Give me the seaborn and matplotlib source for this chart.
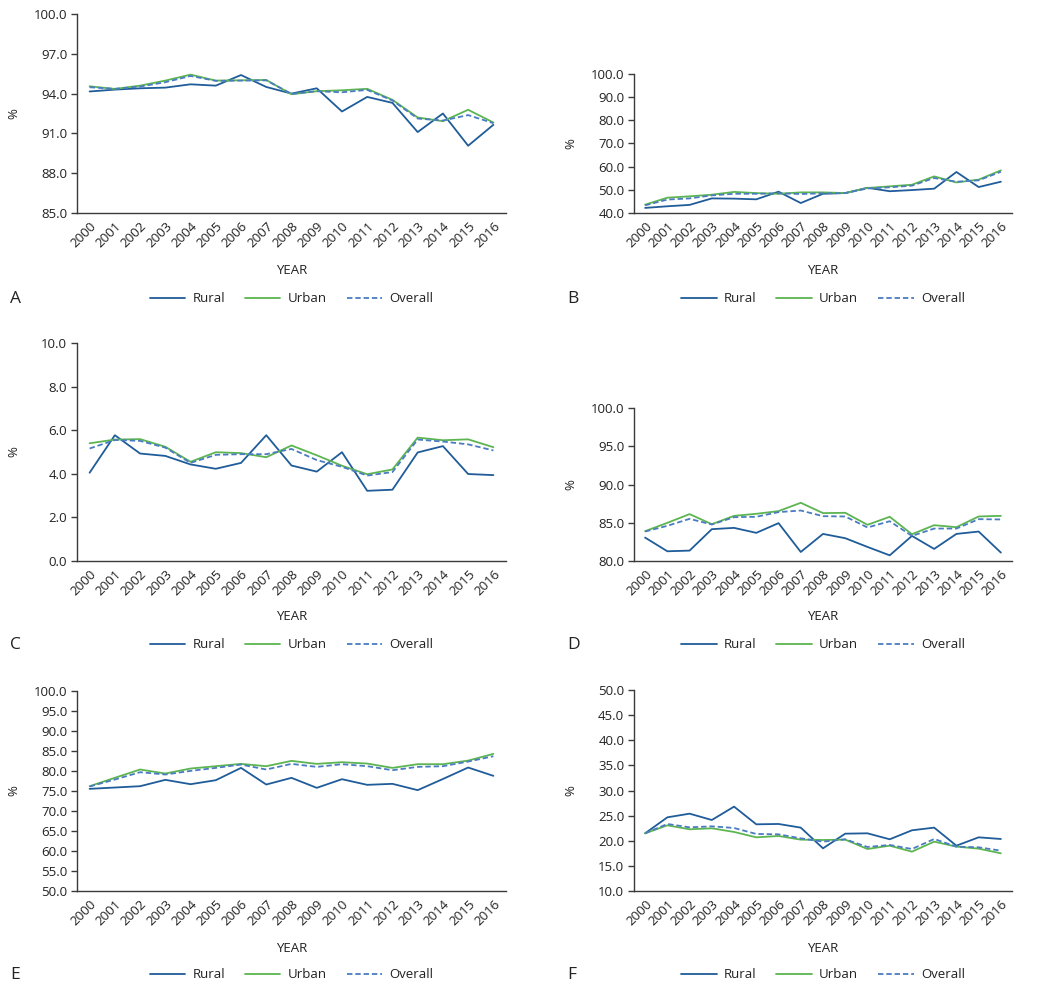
import numpy as np
import pandas as pd
import matplotlib
matplotlib.use("Agg")
import matplotlib.pyplot as plt
from matplotlib.lines import Line2D
import seaborn as sns

# Years on the x axis
years = list(range(2000, 2017))

# Panel A
a_rural = [94.16, 94.3, 94.4, 94.45, 94.7, 94.6, 95.4, 94.5, 94.0, 94.4, 92.65, 93.75, 93.3, 91.1, 92.5, 90.07, 91.65]
a_urban = [94.55, 94.35, 94.6, 94.98, 95.43, 94.98, 95.0, 95.03, 93.95, 94.18, 94.25, 94.36, 93.53, 92.2, 91.92, 92.78, 91.82]
a_overall = [94.48, 94.36, 94.53, 94.86, 95.33, 94.96, 94.98, 95.0, 93.98, 94.18, 94.1, 94.28, 93.48, 92.12, 91.97, 92.38, 91.77]

# Panel B
b_rural = [42.2, 42.9, 43.5, 46.3, 46.2, 45.9, 49.2, 44.3, 48.3, 48.6, 50.9, 49.4, 49.9, 50.5, 57.7, 51.2, 53.5]
b_urban = [43.6, 46.6, 47.2, 47.9, 49.1, 48.6, 48.3, 48.9, 48.9, 48.6, 50.8, 51.5, 52.2, 55.8, 53.2, 54.4, 58.4]
b_overall = [43.3, 45.8, 46.3, 47.6, 48.3, 48.3, 48.5, 48.2, 48.5, 48.6, 50.6, 51.1, 51.8, 55.1, 53.5, 54.1, 57.8]

# Panel C
c_rural = [4.05, 5.77, 4.93, 4.82, 4.43, 4.23, 4.5, 5.77, 4.38, 4.1, 4.99, 3.22, 3.27, 4.98, 5.27, 3.99, 3.94]
c_urban = [5.4, 5.57, 5.59, 5.24, 4.55, 4.99, 4.95, 4.76, 5.3, 4.85, 4.37, 3.98, 4.2, 5.66, 5.54, 5.58, 5.22]
c_overall = [5.16, 5.55, 5.51, 5.2, 4.5, 4.87, 4.9, 4.9, 5.14, 4.63, 4.32, 3.92, 4.08, 5.57, 5.48, 5.35, 5.07]

# Panel D
d_rural = [83.06, 81.27, 81.36, 84.16, 84.33, 83.68, 84.95, 81.18, 83.54, 82.98, 81.84, 80.74, 83.28, 81.58, 83.54, 83.85, 81.1]
d_urban = [83.9, 84.99, 86.13, 84.81, 85.9, 86.17, 86.52, 87.61, 86.26, 86.3, 84.73, 85.78, 83.5, 84.68, 84.42, 85.82, 85.9]
d_overall = [83.85, 84.6, 85.51, 84.77, 85.73, 85.78, 86.39, 86.6, 85.86, 85.82, 84.38, 85.2, 83.28, 84.24, 84.24, 85.47, 85.43]

# Panel E
e_rural = [75.54, 75.87, 76.2, 77.79, 76.7, 77.7, 80.78, 76.62, 78.29, 75.79, 77.95, 76.54, 76.79, 75.21, 78.0, 80.87, 78.79]
e_urban = [76.2, 78.3, 80.37, 79.37, 80.62, 81.2, 81.78, 81.2, 82.53, 81.78, 82.2, 81.86, 80.78, 81.7, 81.7, 82.6, 84.28]
e_overall = [76.12, 77.87, 79.7, 79.12, 80.03, 80.78, 81.61, 80.37, 81.78, 81.03, 81.7, 81.2, 80.2, 81.03, 81.2, 82.36, 83.69]

# Panel F
f_rural = [21.48, 24.66, 25.39, 24.13, 26.79, 23.27, 23.34, 22.61, 18.49, 21.41, 21.48, 20.29, 22.08, 22.61, 19.02, 20.68, 20.35]
f_urban = [21.48, 23.07, 22.28, 22.48, 21.75, 20.68, 20.95, 20.22, 20.15, 20.22, 18.36, 19.02, 17.83, 19.82, 18.83, 18.43, 17.5]
f_overall = [21.48, 23.34, 22.67, 22.87, 22.54, 21.35, 21.28, 20.48, 19.82, 20.29, 18.76, 19.16, 18.36, 20.35, 18.83, 18.69, 18.03]

areas = ["Rural", "Urban", "Overall"]
colors = {"Rural": "#1f5c99", "Urban": "#5cb551", "Overall": "#4a7cc2"}
dashes = {"Rural": "", "Urban": "", "Overall": (3, 1.6)}

sns.set_theme(style="white")
plt.rcParams["font.family"] = ["Open Sans", "DejaVu Sans"]
plt.rcParams["axes.edgecolor"] = "#3a3a3a"
plt.rcParams["axes.linewidth"] = 1.0

W, H = 1050, 991
fig = plt.figure(figsize=(W / 100, H / 100), dpi=100)

# letter, series, y ticks, pixel box (x0, x1, top, bottom), YEAR row, legend row
panels = [
    ("A", (a_rural, a_urban, a_overall), np.arange(85, 100.1, 3), (77, 506, 14, 213), 271, 299),
    ("B", (b_rural, b_urban, b_overall), np.arange(40, 100.1, 10), (634, 1012, 74, 213), 271, 299),
    ("C", (c_rural, c_urban, c_overall), np.arange(0, 10.1, 2), (77, 506, 343, 561), 617, 645),
    ("D", (d_rural, d_urban, d_overall), np.arange(80, 100.1, 5), (634, 1012, 408, 561), 617, 645),
    ("E", (e_rural, e_urban, e_overall), np.arange(50, 100.1, 5), (77, 506, 691, 891), 948, 975),
    ("F", (f_rural, f_urban, f_overall), np.arange(10, 50.1, 5), (634, 1012, 690, 891), 948, 975),
]

for letter, series, yticks, (x0, x1, top, bot), year_y, leg_y in panels:
    ax = fig.add_axes([x0 / W, 1 - bot / H, (x1 - x0) / W, (bot - top) / H])
    df = pd.DataFrame({
        "Year": years * 3,
        "Value": series[0] + series[1] + series[2],
        "Area": [a for a in areas for _ in years],
    })
    sns.lineplot(data=df, x="Year", y="Value", hue="Area", style="Area",
                 palette=colors, dashes=dashes, linewidth=1.3,
                 legend=False, ax=ax)

    ax.set_xlim(1999.5, 2016.5)
    ax.set_ylim(yticks[0], yticks[-1])
    ax.set_xticks(years)
    ax.set_xticklabels([str(y) for y in years], rotation=45, ha="right",
                       rotation_mode="anchor", fontsize=9.5, color="#222222")
    ax.set_yticks(yticks)
    ax.set_yticklabels([f"{v:.1f}" for v in yticks], fontsize=9.5, color="#222222")
    ax.tick_params(axis="x", length=0, pad=5)
    ax.tick_params(axis="y", length=4, width=1.0, color="#3a3a3a", pad=3, left=True)
    sns.despine(ax=ax)

    ax.set_xlabel("")
    ax.set_ylabel("%", fontsize=9.5, color="#222222")
    ax.yaxis.set_label_coords(-57 / (x1 - x0), 0.5)

    cx = (x0 + x1) / 2
    fig.text(cx / W, 1 - year_y / H, "YEAR", ha="center", va="center",
             fontsize=9.5, color="#222222")

    handles = [Line2D([], [], color=colors[a], lw=1.3,
                      linestyle=(0, (3, 1.6)) if a == "Overall" else "-")
               for a in areas]
    fig.legend(handles, areas, loc="center", bbox_to_anchor=(cx / W, 1 - leg_y / H),
               ncol=3, frameon=False, fontsize=9.5, handlelength=2.7,
               handletextpad=0.55, columnspacing=1.5, labelcolor="#222222")

    lx = 10 if x0 < 300 else 567
    fig.text(lx / W, 1 - leg_y / H, letter, ha="left", va="center",
             fontsize=12.5, color="#222222")

fig.savefig("out.png", dpi=100)
